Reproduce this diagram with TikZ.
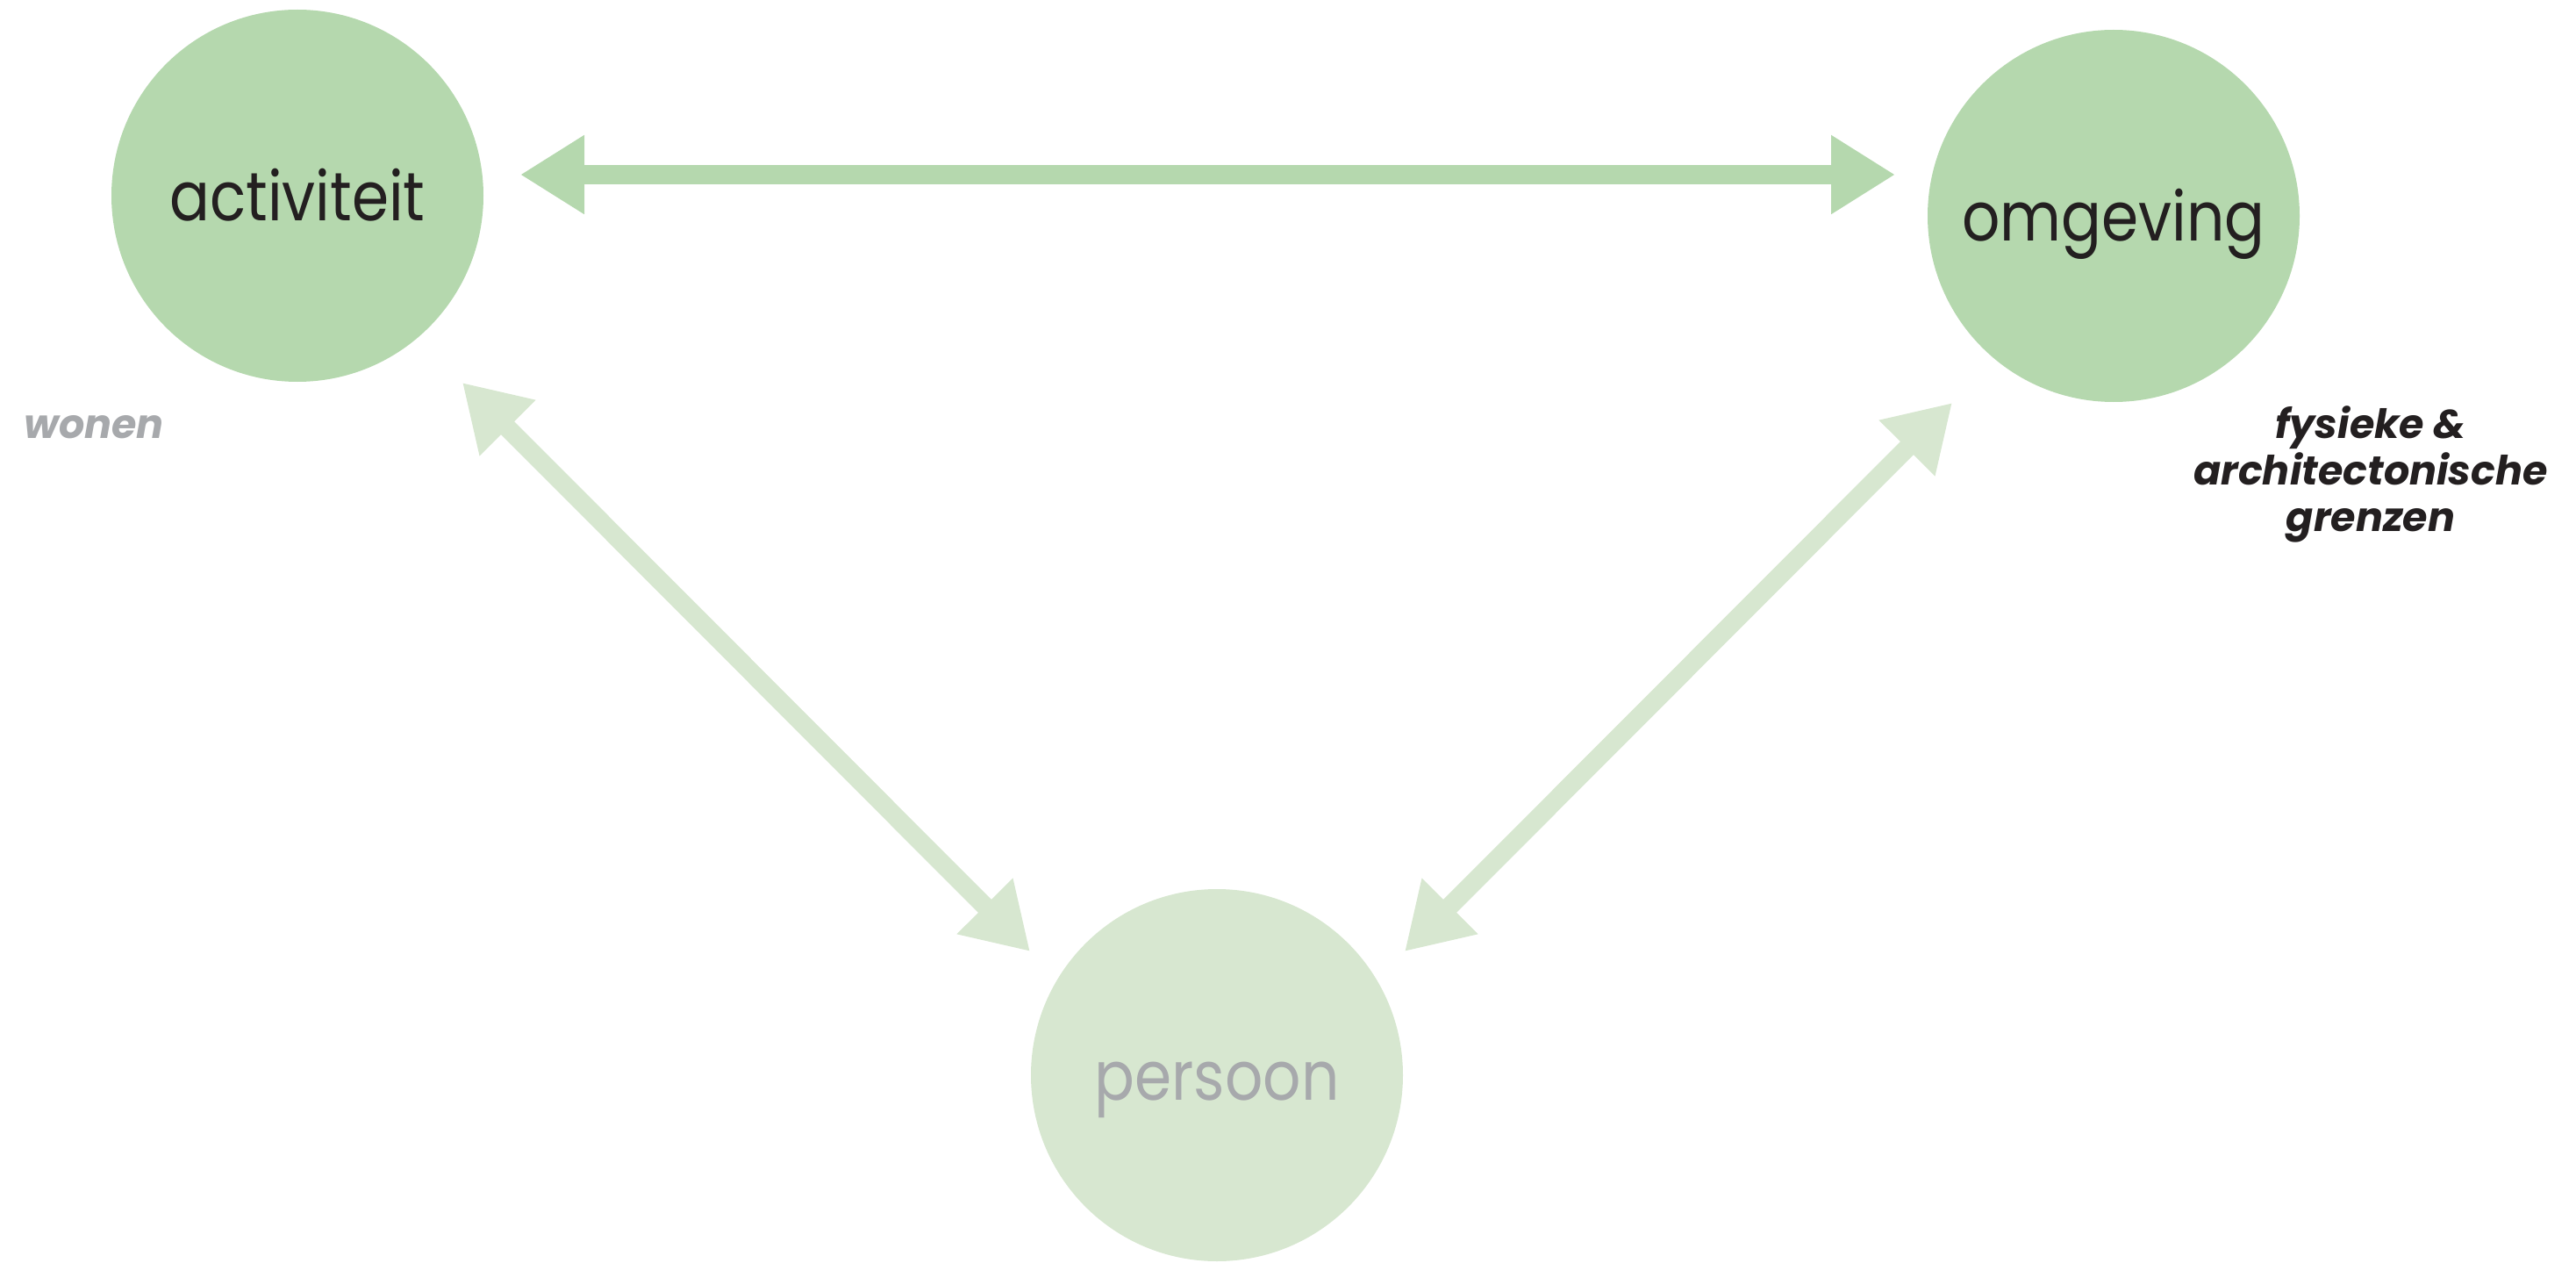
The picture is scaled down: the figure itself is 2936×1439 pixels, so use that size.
\documentclass[tikz,border=0pt]{standalone}
\usepackage{fontspec}
\setmainfont{Poppins}
\newfontfamily\bubblefont[FakeStretch=0.87]{Poppins}
\usetikzlibrary{arrows.meta}
\definecolor{dkgreen}{HTML}{B5D8AE}
\definecolor{ltgreen}{HTML}{D7E7D0}
\definecolor{txtblack}{HTML}{231F20}
\definecolor{txtgrey}{HTML}{A7A9AC}
\tikzset{
  bubble/.style={circle, inner sep=0pt, minimum size=212pt, text height=28.5pt, text depth=0pt, font=\bubblefont\fontsize{39}{44}\selectfont},
  darkbubble/.style={bubble, fill=dkgreen, text=txtblack},
  lightbubble/.style={bubble, fill=ltgreen, text=txtgrey},
  arr/.style={line width=10.6pt, {Triangle[length=36.5pt,width=42.5pt]}-{Triangle[length=36.5pt,width=42.5pt]}},
  darkarr/.style={arr, draw=dkgreen},
  lightarr/.style={arr, draw=ltgreen},
  tag/.style={font=\fontsize{23}{26.5}\selectfont\bfseries\itshape, align=center, inner sep=0pt}
}
\begin{document}
\begin{tikzpicture}[x=0.5pt,y=-0.5pt]
\useasboundingbox (0,0) rectangle (2936,1439);
\node[darkbubble] (act) at (339,223) {activiteit};
\node[darkbubble] (omg) at (2409,246) {omgeving};
\node[lightbubble] (per) at (1387,1225) {persoon};
\coordinate (h1) at (593,199);
\coordinate (h2) at (2160,199);
\coordinate (l1) at (527,436);
\coordinate (l2) at (1174,1084);
\coordinate (r1) at (2225,459);
\coordinate (r2) at (1601,1084);
\draw[darkarr] (h1) -- (h2);
\draw[lightarr] (l1) -- (l2);
\draw[lightarr] (r1) -- (r2);
\node[tag, text=txtgrey, anchor=base] (won) at (107,499) {wonen};
\node[tag, text=txtblack, anchor=base] (grz) at (2702,605) {fysieke \&\\architectonische\\grenzen};
\end{tikzpicture}
\end{document}
